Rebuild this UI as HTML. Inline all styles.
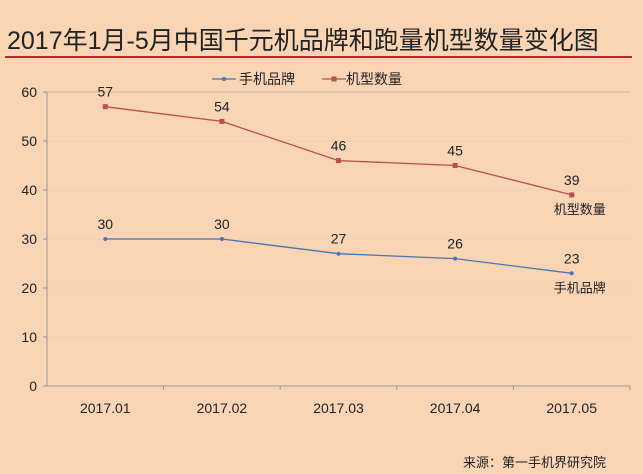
<!DOCTYPE html>
<html><head><meta charset="utf-8"><style>
body{margin:0;background:#f9d5b6;}
svg{display:block;font-family:"Liberation Sans","Noto Sans CJK SC",sans-serif;}
</style></head><body>
<svg width="643" height="474" viewBox="0 0 643 474">
<rect width="643" height="474" fill="#f9d5b6"/>
<text x="7" y="49" font-size="25" fill="#222">2017年1月-5月中国千元机品牌和跑量机型数量变化图</text>
<line x1="5" y1="57" x2="632" y2="57" stroke="#c0272d" stroke-width="2"/>
<g id="legend">
<line x1="212" y1="79" x2="236" y2="79" stroke="#4a74b4" stroke-width="1.2"/>
<circle cx="224" cy="79" r="2" fill="#4a74b4"/>
<text x="239" y="84" font-size="14" fill="#222">手机品牌</text>
<line x1="322" y1="79" x2="346" y2="79" stroke="#b8504b" stroke-width="1.2"/>
<rect x="331.5" y="76.5" width="5" height="5" fill="#b8504b"/>
<text x="346" y="84" font-size="14" fill="#222">机型数量</text>
</g>
<g id="plot"></g>
<text x="606" y="467" font-size="13" fill="#222" text-anchor="end">来源：第一手机界研究院</text>
</svg>
<script>
const categories=["2017.01","2017.02","2017.03","2017.04","2017.05"];
const brandValues=[30,30,27,26,23];
const modelValues=[57,54,46,45,39];
const yTicks=[0,10,20,30,40,50,60];
const NS="http://www.w3.org/2000/svg";
const g=document.getElementById('plot');
const x0=47,x1=630,y0=386,yTop=92,yMax=60;
const band=(x1-x0)/categories.length;
const X=i=>x0+band*(i+0.5);
const Y=v=>y0-(y0-yTop)*v/yMax;
function mk(tag,attrs,txt){const e=document.createElementNS(NS,tag);for(const k in attrs)e.setAttribute(k,attrs[k]);if(txt!==undefined)e.textContent=txt;g.appendChild(e);return e;}
yTicks.forEach(t=>{
 if(t>0){const gl=mk('line',{x1:x0,x2:x1,y1:Y(t),y2:Y(t),stroke:t==60?'#c9b8a8':'#f0cfb2','stroke-width':1});
 
 }
 const tl=mk('text',{x:37,y:Y(t)+5,'font-size':14,'text-anchor':'end',fill:'#222'},t);
 
 
 mk('line',{x1:43,x2:x0,y1:Y(t),y2:Y(t),stroke:'#999'});
});
const ya=mk('line',{x1:x0,x2:x0,y1:yTop,y2:y0,stroke:'#999'});


const xa=mk('line',{x1:x0,x2:x1,y1:y0,y2:y0,stroke:'#999'});


categories.forEach((c,i)=>{
 mk('line',{x1:x0+band*(i+1),x2:x0+band*(i+1),y1:y0,y2:y0+4,stroke:'#999'});
 const tl=mk('text',{x:X(i),y:413,'font-size':14,'text-anchor':'middle',fill:'#222'},c);
 
 
});
function series(vals,color,name,square,endLabel){
 const pl=mk('polyline',{points:vals.map((v,i)=>X(i)+','+Y(v)).join(' '),fill:'none',stroke:color,'stroke-width':1.3});
 
 
 vals.forEach((v,i)=>{
  const p=square?mk('rect',{x:X(i)-2.5,y:Y(v)-2.5,width:5,height:5,fill:color}):mk('circle',{cx:X(i),cy:Y(v),r:2,fill:color});
  
  
  const l=mk('text',{x:X(i),y:Y(v)-10,'font-size':14,'text-anchor':'middle',fill:'#222'},v);
  
  
 });
 const n=vals.length-1;
 const e=mk('text',{x:X(n)+8,y:Y(vals[n])+19,'font-size':13,'text-anchor':'middle',fill:'#222'},endLabel);
 
 
}
series(brandValues,'#4a74b4','brand',false,'手机品牌');
series(modelValues,'#b8504b','models',true,'机型数量');
</script>
</body></html>
